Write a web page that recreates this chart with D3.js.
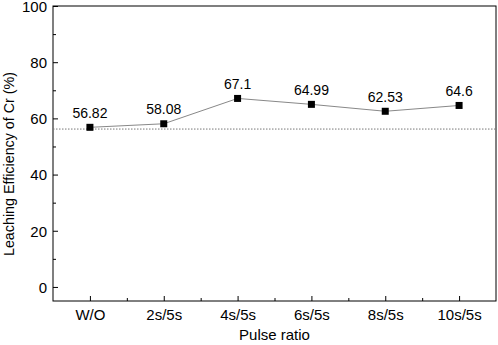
<!DOCTYPE html>
<html>
<head>
<meta charset="utf-8">
<script src="https://cdn.jsdelivr.net/npm/d3@7"></script>
<style>
  body { margin: 0; background: #fff; }
  text { font-family: "Liberation Sans", Arial, sans-serif; fill: #000; }
</style>
</head>
<body>
<div id="chart"></div>
<script>
// Data
const categories = ["W/O", "2s/5s", "4s/5s", "6s/5s", "8s/5s", "10s/5s"];
const efficiency = [56.82, 58.08, 67.1, 64.99, 62.53, 64.6];
const valueLabels = ["56.82", "58.08", "67.1", "64.99", "62.53", "64.6"];
const yTicks = [0, 20, 40, 60, 80, 100];
const yMinorTicks = [10, 30, 50, 70, 90];
const baselineValue = 56.2;

const W = 498, H = 345;
const margin = { left: 53, right: 2, top: 6, bottom: 44 };

const svg = d3.select("#chart").append("svg")
  .attr("width", W)
  .attr("height", H);

const x = d3.scaleLinear()
  .domain([-0.5, categories.length - 0.5])
  .range([margin.left, W - margin.right]);

const y = d3.scaleLinear()
  .domain([-5, 100])
  .range([H - margin.bottom, margin.top]);

// frame
svg.append("rect")
  .attr("x", x.range()[0])
  .attr("y", y.range()[1])
  .attr("width", x.range()[1] - x.range()[0])
  .attr("height", y.range()[0] - y.range()[1])
  .attr("fill", "none")
  .attr("stroke", "#000")
  .attr("stroke-width", 1);

// y axis (ticks inside)
const yAxis = svg.append("g")
  .attr("transform", `translate(${margin.left},0)`)
  .call(d3.axisLeft(y).tickValues(yTicks).tickSize(-5).tickPadding(6));
yAxis.select(".domain").remove();
yAxis.selectAll("text").style("font-size", "15px").attr("dy", "0.36em");

svg.append("g")
  .attr("transform", `translate(${margin.left},0)`)
  .call(d3.axisLeft(y).tickValues(yMinorTicks).tickSize(-3).tickFormat(""))
  .select(".domain").remove();

// x axis (ticks inside)
const xAxis = svg.append("g")
  .attr("transform", `translate(0,${H - margin.bottom})`)
  .call(d3.axisBottom(x)
    .tickValues(d3.range(categories.length))
    .tickFormat(i => categories[i])
    .tickSize(-5)
    .tickPadding(8));
xAxis.select(".domain").remove();
xAxis.selectAll("text").style("font-size", "15px");

svg.append("g")
  .attr("transform", `translate(0,${H - margin.bottom})`)
  .call(d3.axisBottom(x)
    .tickValues(d3.range(categories.length - 1).map(i => i + 0.5))
    .tickSize(-3)
    .tickFormat(""))
  .select(".domain").remove();

// dotted reference line
svg.append("line")
  .attr("x1", x.range()[0])
  .attr("x2", x.range()[1])
  .attr("y1", y(baselineValue))
  .attr("y2", y(baselineValue))
  .attr("stroke", "#777")
  .attr("stroke-width", 1)
  .attr("stroke-dasharray", "1.5,1.5");

// line
const line = d3.line()
  .x((d, i) => x(i))
  .y(d => y(d));

svg.append("path")
  .datum(efficiency)
  .attr("d", line)
  .attr("fill", "none")
  .attr("stroke", "#888")
  .attr("stroke-width", 1);

// markers
svg.selectAll(".pt")
  .data(efficiency)
  .join("rect")
  .attr("class", "pt")
  .attr("x", (d, i) => x(i) - 3.5)
  .attr("y", d => y(d) - 3.5)
  .attr("width", 7)
  .attr("height", 7)
  .attr("fill", "#000");

// value labels
svg.selectAll(".val")
  .data(efficiency)
  .join("text")
  .attr("class", "val")
  .attr("x", (d, i) => x(i))
  .attr("y", d => y(d) - 9.5)
  .attr("text-anchor", "middle")
  .style("font-size", "14px")
  .text((d, i) => valueLabels[i]);

// axis titles
svg.append("text")
  .attr("x", (x.range()[0] + x.range()[1]) / 2)
  .attr("y", 340)
  .attr("text-anchor", "middle")
  .style("font-size", "15px")
  .text("Pulse ratio");

svg.append("text")
  .attr("transform", `translate(14,164) rotate(-90)`)
  .attr("text-anchor", "middle")
  .style("font-size", "14.3px")
  .text("Leaching Efficiency of Cr (%)");
</script>
</body>
</html>
